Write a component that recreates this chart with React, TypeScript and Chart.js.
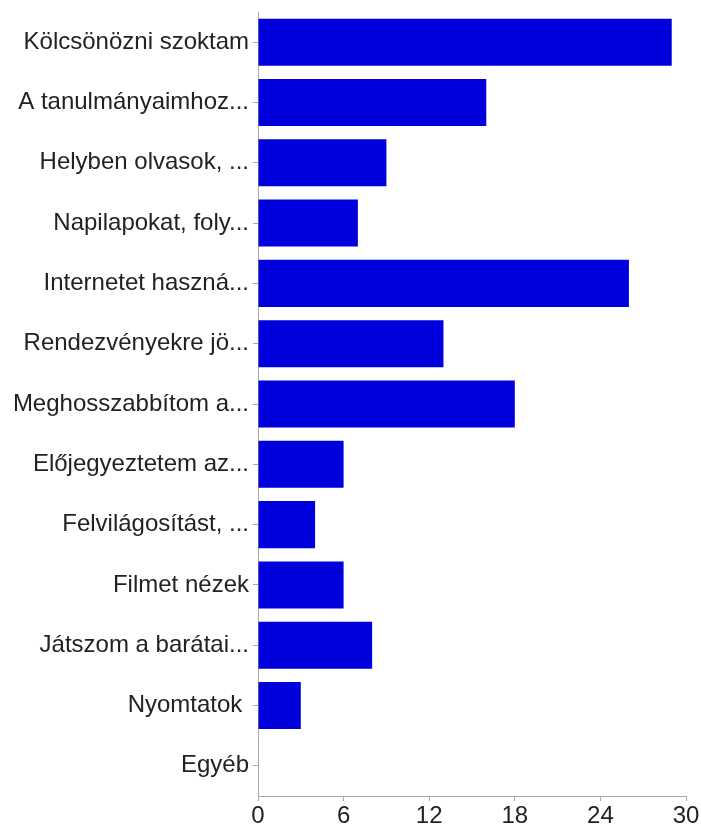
import React, { useEffect, useRef } from "react";
import { Chart, registerables } from "chart.js";

Chart.register(...registerables);

const categories = [
  "Kölcsönözni szoktam",
  "A tanulmányaimhoz...",
  "Helyben olvasok, ...",
  "Napilapokat, foly...",
  "Internetet haszná...",
  "Rendezvényekre jö...",
  "Meghosszabbítom a...",
  "Előjegyeztetem az...",
  "Felvilágosítást, ...",
  "Filmet nézek",
  "Játszom a barátai...",
  "Nyomtatok ",
  "Egyéb",
];
const values = [29, 16, 9, 7, 26, 13, 18, 6, 4, 6, 8, 3, 0];
const xTicks = [0, 6, 12, 18, 24, 30];

export default function App() {
  const ref = useRef<HTMLCanvasElement>(null);
  useEffect(() => {
    if (!ref.current) return;
    const chart = new Chart(ref.current, {
      type: "bar",
      data: {
        labels: categories,
        datasets: [
          {
            data: values,
            backgroundColor: "#0000dd",
            borderWidth: 0,
            categoryPercentage: 1,
            barPercentage: 0.78,
          },
        ],
      },
      options: {
        indexAxis: "y",
        animation: false,
        responsive: false,
        maintainAspectRatio: false,
        layout: { padding: { left: 0, right: 15, top: 0, bottom: 0 } },
        plugins: { legend: { display: false }, tooltip: { enabled: false } },
        scales: {
          x: {
            min: 0,
            max: 30,
            afterBuildTicks: (s: any) => {
              s.ticks = xTicks.map((v) => ({ value: v }));
            },
            afterFit: (s: any) => {
              s.height = 31;
            },
            grid: { drawOnChartArea: false, drawTicks: true, tickLength: 5, color: "#aaaaaa" },
            border: { color: "#aaaaaa" },
            ticks: {
              color: "#222222",
              font: { family: "Liberation Sans, Arial, sans-serif", size: 24 },
              padding: 1,
              maxRotation: 0,
            },
          },
          y: {
            afterFit: (s: any) => {
              s.width = 258;
              s.paddingTop = 12;
              s.paddingBottom = 0;
            },
            grid: { offset: false, drawOnChartArea: false, drawTicks: true, tickLength: 5, color: "#aaaaaa" },
            border: { color: "#aaaaaa" },
            ticks: {
              color: "#222222",
              font: { family: "Liberation Sans, Arial, sans-serif", size: 24 },
              padding: 4,
              autoSkip: false,
            },
          },
        },
      },
    });
    return () => chart.destroy();
  }, []);
  return (
    <div style={{ position: "absolute", left: 0, top: 0, width: 701, height: 827, background: "#fff" }}>
      <canvas ref={ref} width={701} height={827} style={{ width: 701, height: 827 }} />
    </div>
  );
}
